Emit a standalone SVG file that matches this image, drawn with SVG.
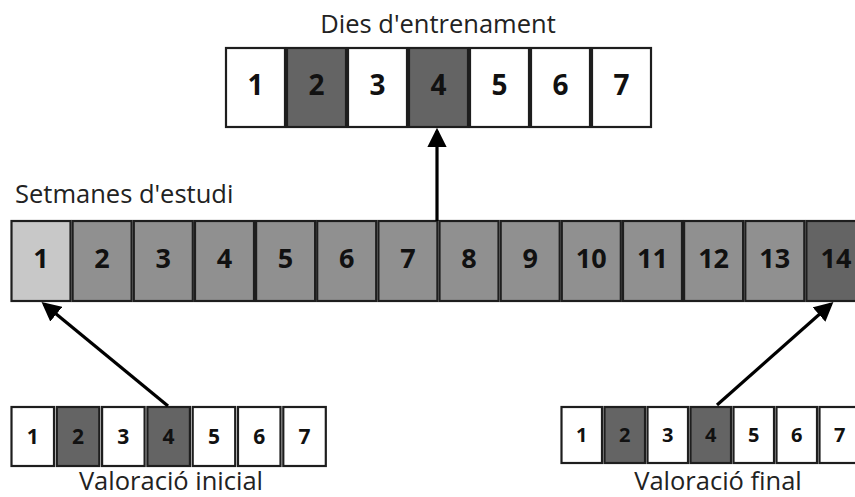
<svg xmlns="http://www.w3.org/2000/svg" width="855" height="497" viewBox="0 0 855 497">
<style>
.lbl{font-family:"Open Sans","Noto Sans","DejaVu Sans",sans-serif;font-size:25.5px;fill:#222}
.num{font-family:"Open Sans","Noto Sans","DejaVu Sans",sans-serif;font-weight:700;fill:#111;text-anchor:middle}
.c{stroke:#1e1e1e;stroke-width:2.2}
.w{fill:#ffffff}.d{fill:#646464}.m{fill:#909090}.l{fill:#c8c8c8}
.arr{stroke:#000;stroke-width:3.2;fill:none;marker-end:url(#ah)}
</style>
<defs>
<marker id="ah" markerWidth="6" markerHeight="6" refX="5" refY="3" orient="auto" markerUnits="strokeWidth" viewBox="0 0 6 6">
<path d="M0,0 L6,3 L0,6 Z" fill="#000"/>
</marker>
</defs>
<rect width="855" height="497" fill="#fff"/>

<g id="dies">
<text class="lbl" x="438" y="33" text-anchor="middle">Dies d'entrenament</text>
<rect class="c w" x="226" y="48" width="59" height="79"/>
<rect class="c d" x="287" y="48" width="59" height="79"/>
<rect class="c w" x="348" y="48" width="59" height="79"/>
<rect class="c d" x="409" y="48" width="59" height="79"/>
<rect class="c w" x="470" y="48" width="59" height="79"/>
<rect class="c w" x="531" y="48" width="59" height="79"/>
<rect class="c w" x="592" y="48" width="59" height="79"/>
<g class="num" font-size="28">
<text x="255.5" y="95">1</text><text x="316.5" y="95">2</text><text x="377.5" y="95">3</text><text x="438.5" y="95">4</text><text x="499.5" y="95">5</text><text x="560.5" y="95">6</text><text x="621.5" y="95">7</text>
</g>
</g>

<g id="setmanes">
<text class="lbl" x="15" y="203">Setmanes d'estudi</text>
<rect class="c l" x="11.5" y="221" width="59" height="80"/>
<rect class="c m" x="72.6" y="221" width="59" height="80"/>
<rect class="c m" x="133.8" y="221" width="59" height="80"/>
<rect class="c m" x="195" y="221" width="59" height="80"/>
<rect class="c m" x="256.1" y="221" width="59" height="80"/>
<rect class="c m" x="317.2" y="221" width="59" height="80"/>
<rect class="c m" x="378.4" y="221" width="59" height="80"/>
<rect class="c m" x="439.5" y="221" width="59" height="80"/>
<rect class="c m" x="500.7" y="221" width="59" height="80"/>
<rect class="c m" x="561.8" y="221" width="59" height="80"/>
<rect class="c m" x="623" y="221" width="59" height="80"/>
<rect class="c m" x="684.1" y="221" width="59" height="80"/>
<rect class="c m" x="745.3" y="221" width="59" height="80"/>
<rect class="c d" x="806.4" y="221" width="59" height="80"/>
<g class="num" font-size="27">
<text x="41" y="268">1</text><text x="102.1" y="268">2</text><text x="163.3" y="268">3</text><text x="224.5" y="268">4</text><text x="285.6" y="268">5</text><text x="346.7" y="268">6</text><text x="407.9" y="268">7</text><text x="469" y="268">8</text><text x="530.2" y="268">9</text><text x="591.3" y="268">10</text><text x="652.5" y="268">11</text><text x="713.6" y="268">12</text><text x="774.8" y="268">13</text><text x="835.9" y="268">14</text>
</g>
</g>

<g id="valoracio-inicial">
<rect class="c w" x="11.5" y="407" width="42.5" height="59"/>
<rect class="c d" x="56.8" y="407" width="42.5" height="59"/>
<rect class="c w" x="102.1" y="407" width="42.5" height="59"/>
<rect class="c d" x="147.4" y="407" width="42.5" height="59"/>
<rect class="c w" x="192.7" y="407" width="42.5" height="59"/>
<rect class="c w" x="238" y="407" width="42.5" height="59"/>
<rect class="c w" x="283.3" y="407" width="42.5" height="59"/>
<g class="num" font-size="21">
<text x="32.8" y="443.5">1</text><text x="78" y="443.5">2</text><text x="123.3" y="443.5">3</text><text x="168.6" y="443.5">4</text><text x="214" y="443.5">5</text><text x="259.3" y="443.5">6</text><text x="304.6" y="443.5">7</text>
</g>
<text class="lbl" x="171" y="490" text-anchor="middle">Valoració inicial</text>
</g>

<g id="valoracio-final">
<rect class="c w" x="561.5" y="407" width="40.5" height="56"/>
<rect class="c d" x="604.5" y="407" width="40.5" height="56"/>
<rect class="c w" x="647.5" y="407" width="40.5" height="56"/>
<rect class="c d" x="690.5" y="407" width="40.5" height="56"/>
<rect class="c w" x="733.5" y="407" width="40.5" height="56"/>
<rect class="c w" x="776.5" y="407" width="40.5" height="56"/>
<rect class="c w" x="819.5" y="407" width="40.5" height="56"/>
<g class="num" font-size="20">
<text x="581.8" y="442">1</text><text x="624.8" y="442">2</text><text x="667.8" y="442">3</text><text x="710.8" y="442">4</text><text x="753.8" y="442">5</text><text x="796.8" y="442">6</text><text x="839.8" y="442">7</text>
</g>
<text class="lbl" x="718" y="490" text-anchor="middle">Valoració final</text>
</g>

<g id="connectors">
<line class="arr" x1="437" y1="221" x2="437" y2="131"/>
<line class="arr" x1="168" y1="406" x2="44" y2="304"/>
<line class="arr" x1="717" y1="405" x2="831" y2="304"/>
</g>
</svg>
